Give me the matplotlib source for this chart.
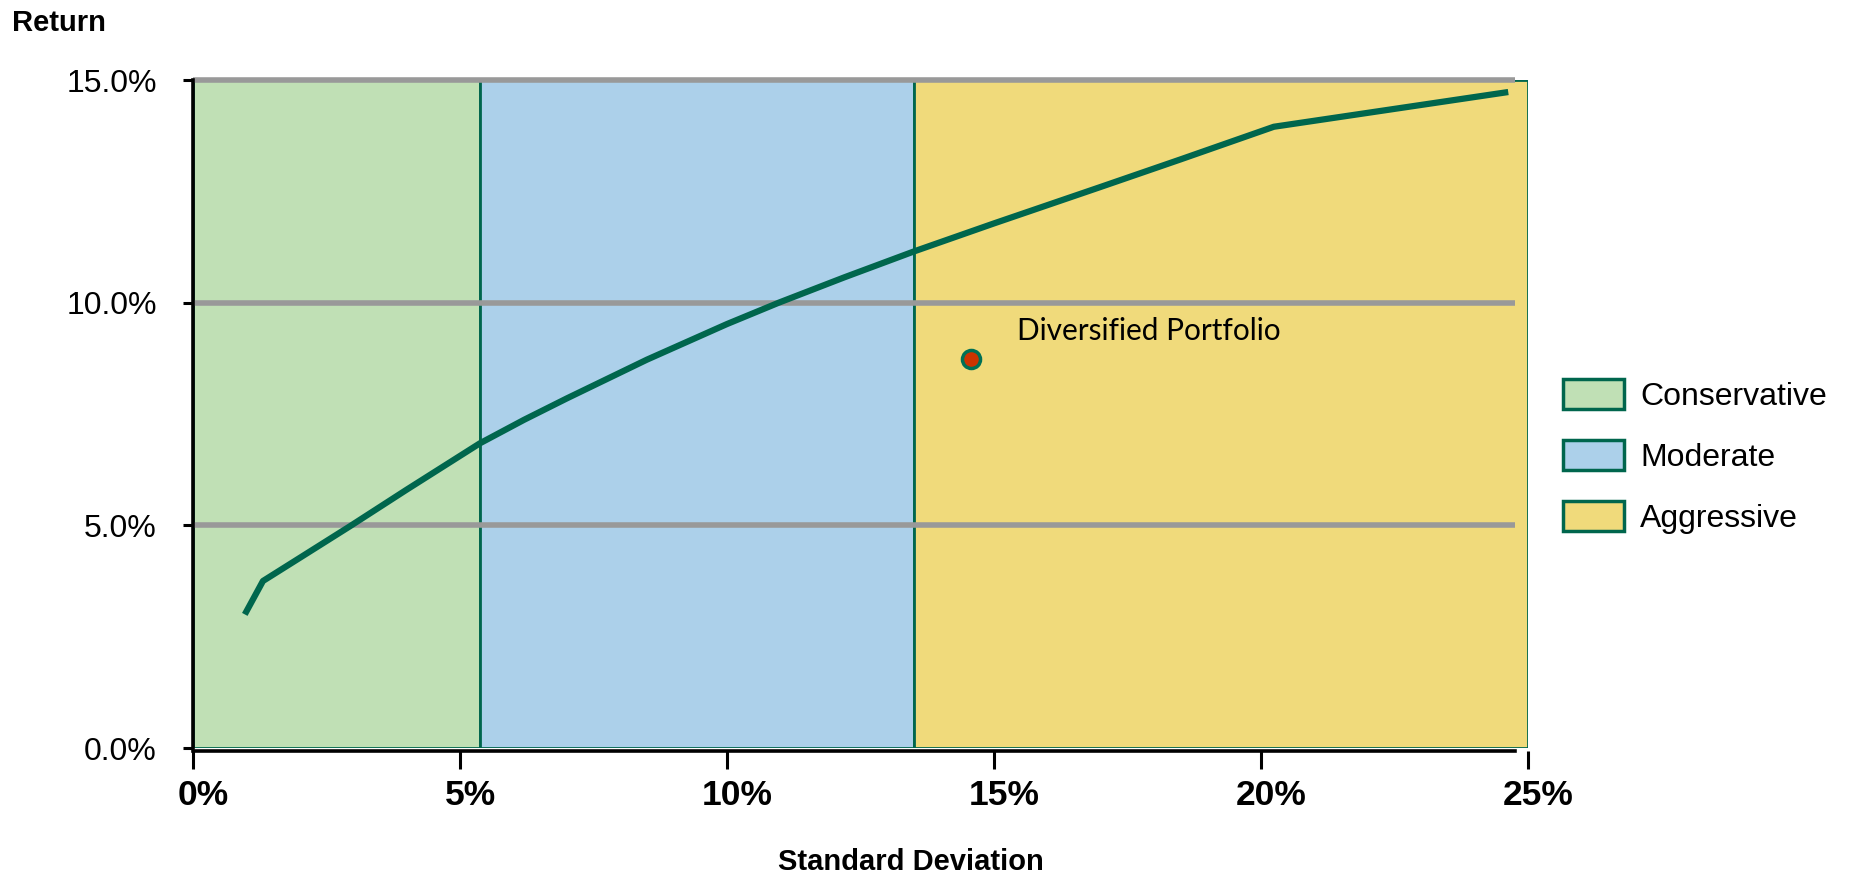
import matplotlib
matplotlib.use("Agg")
import matplotlib.pyplot as plt
from matplotlib.patches import Rectangle, Patch
from matplotlib.transforms import ScaledTranslation
from matplotlib import font_manager

# Efficient frontier: standard deviation (%) vs expected return (%)
frontier_sd = [0.97, 1.31, 2.0, 2.94, 4.0, 5.37, 6.2, 7.0, 8.5, 10.0, 10.97,
               12.2, 13.5, 15.0, 17.0, 18.5, 20.24, 24.63]
frontier_ret = [3.0, 3.75, 4.27, 4.98, 5.8, 6.84, 7.37, 7.85, 8.72, 9.52, 10.0,
                10.57, 11.15, 11.78, 12.6, 13.22, 13.95, 14.73]

# Risk zones along the standard-deviation axis
zone_names = ["Conservative", "Moderate", "Aggressive"]
zone_edges = [0.0, 5.37, 13.5, 25.0]
zone_colors = ["#c0e0b5", "#acd0ea", "#f0da7b"]

# Single highlighted portfolio
portfolio_label = "Diversified Portfolio"
portfolio_sd = 14.57
portfolio_ret = 8.74

x_ticks = [0, 5, 10, 15, 20, 25]
x_ticklabels = ["0%", "5%", "10%", "15%", "20%", "25%"]
y_ticks = [0, 5, 10, 15]
y_ticklabels = ["0.0%", "5.0%", "10.0%", "15.0%"]

DARK_GREEN = "#00664d"
GRID_GRAY = "#999999"

installed = {f.name for f in font_manager.fontManager.ttflist}
narrow = "Liberation Sans Narrow" if "Liberation Sans Narrow" in installed else "Liberation Sans"
plt.rcParams["font.family"] = ["Liberation Sans", "DejaVu Sans"]

W, H = 1850, 876
fig = plt.figure(figsize=(W / 100, H / 100), dpi=100)
ax = fig.add_axes([193 / W, 128 / H, 1335 / W, 668 / H])
ax.set_xlim(0, 25)
ax.set_ylim(0, 15)

# Coloured zones
for i in range(len(zone_names)):
    ax.add_patch(Rectangle((zone_edges[i], 0), zone_edges[i + 1] - zone_edges[i], 15,
                           facecolor=zone_colors[i], edgecolor=DARK_GREEN,
                           linewidth=2.0, zorder=1))

# Horizontal gridlines
for yv in [5, 10, 15]:
    ax.hlines(yv, 0, 24.75, color=GRID_GRAY, linewidth=4, zorder=2, clip_on=False)

# Frontier curve
ax.plot(frontier_sd, frontier_ret, color=DARK_GREEN, linewidth=4.5,
        solid_capstyle="butt", solid_joinstyle="round", zorder=3)

# Highlighted portfolio
ax.plot([portfolio_sd], [portfolio_ret], "o", markersize=13,
        markerfacecolor="#cc3300", markeredgecolor="#007055",
        markeredgewidth=2.5, zorder=4)
ax.text(portfolio_sd + 0.86, portfolio_ret + 0.42, portfolio_label,
        fontsize=21.4, family=["Lato", "DejaVu Sans"], va="baseline",
        ha="left", zorder=5)

# Axes styling
for s in ["top", "right"]:
    ax.spines[s].set_visible(False)
ax.spines["left"].set_linewidth(2.6)
ax.spines["left"].set_color("black")
ax.spines["left"].set_bounds(0, 15)
ax.spines["bottom"].set_linewidth(2.6)
ax.spines["bottom"].set_color("black")
ax.spines["bottom"].set_bounds(0, 24.75)
ax.spines["bottom"].set_position(("outward", 2))
for sp in ax.spines.values():
    sp.set_zorder(6)

ax.set_xticks(x_ticks)
ax.set_xticklabels(x_ticklabels, fontsize=25.5, fontweight="bold", family=narrow)
ax.set_yticks(y_ticks)
ax.set_yticklabels(y_ticklabels, fontsize=23, family=narrow)
ax.tick_params(axis="x", length=13, width=2.2, pad=7, color="black")
ax.tick_params(axis="y", length=7, width=2.2, pad=19, color="black")

shift = ScaledTranslation(10 / 100, 0, fig.dpi_scale_trans)
for lbl in ax.get_xticklabels():
    lbl.set_transform(lbl.get_transform() + shift)

# Axis titles
fig.text(12 / W, (H - 31) / H, "Return", fontsize=21, fontweight="bold",
         ha="left", va="baseline")
fig.text(911 / W, (H - 870) / H, "Standard Deviation", fontsize=21,
         fontweight="bold", ha="center", va="baseline")

# Legend
handles = [Patch(facecolor=c, edgecolor=DARK_GREEN, linewidth=2.5) for c in zone_colors]
fig.legend(handles, zone_names, loc="upper left",
           bbox_to_anchor=(1563 / W, (H - 379) / H), frameon=False,
           fontsize=23, handlelength=1.9, handleheight=1.08,
           handletextpad=0.52, labelspacing=0.88, borderpad=0,
           borderaxespad=0)

fig.savefig("out.png", dpi=100)
